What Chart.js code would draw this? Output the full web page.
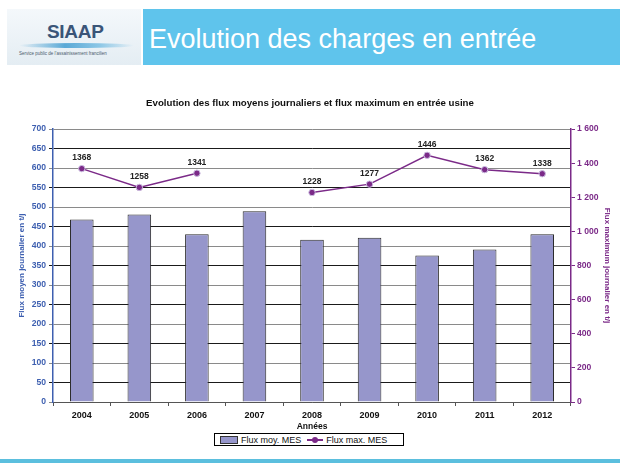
<!DOCTYPE html>
<html>
<head>
<meta charset="utf-8">
<script src="https://cdn.jsdelivr.net/npm/chart.js@4"></script>
<style>
  body { margin: 0; background: #fff; font-family: "Liberation Sans", Arial, sans-serif; }
  #page { position: relative; width: 620px; height: 464px; overflow: hidden; }
  .logo { position: absolute; left: 7px; top: 9px; width: 134px; height: 56px;
          background: linear-gradient(#f4f8fb, #e4edf3); }
  .logo .name { position: absolute; left: 40px; top: 12px; font-size: 19px; font-weight: bold;
                color: #3a5578; letter-spacing: -0.3px; }
  .logo .wave { position: absolute; left: 12px; top: 34px; width: 115px; height: 5px; border-radius: 50%;
                background: linear-gradient(90deg, rgba(120,190,225,0), #5aa9d6 40%, #8cc7e6 70%, rgba(120,190,225,0)); }
  .logo .sub { position: absolute; left: 12px; top: 42px; font-size: 4.5px; color: #4b5a6b; white-space: nowrap; }
  .band { position: absolute; left: 143px; top: 9px; width: 477px; height: 56px; background: #5fc4ec; }
  .band .title { position: absolute; left: 6px; top: 17px; font-size: 27px; line-height: 27px; color: #fff; white-space: nowrap; }
  .foot { position: absolute; left: 0; top: 459px; width: 620px; height: 4px; background: #5bbfde; }
  canvas { position: absolute; left: 0; top: 88px; }
  .legend { position: absolute; left: 214px; top: 433px; width: 190px; height: 13px; border: 1px solid #000;
            box-sizing: border-box; display: flex; align-items: center; font-size: 9px; color: #111; white-space: nowrap; }
  .legend .sw { display: inline-block; width: 16px; height: 6px; background: #9696cb; border: 1px solid #333; margin: 0 3px 0 5px; }
  .legend .ln { position: relative; display: inline-block; width: 16px; height: 7px; margin: 0 3px 0 6px; }
  .legend .ln::before { content: ""; position: absolute; left: 0; right: 0; top: 3px; height: 1.5px; background: #7b2a88; }
  .legend .ln::after { content: ""; position: absolute; left: 5px; top: 0.5px; width: 6px; height: 6px; border-radius: 50%; background: #7b2a88; }
</style>
</head>
<body>
<div id="page">
  <div class="logo">
    <div class="name">SIAAP</div>
    <div class="wave"></div>
    <div class="sub">Service public de l'assainissement francilien</div>
  </div>
  <div class="band"><div class="title">Evolution des charges en entrée</div></div>
  <canvas id="myChart" width="620" height="345"></canvas>
  <div class="legend"><span class="sw"></span>Flux moy. MES<span class="ln"></span>Flux max. MES</div>
  <div class="foot"></div>
</div>
<script>
// Données
var years = ['2004', '2005', '2006', '2007', '2008', '2009', '2010', '2011', '2012'];
var fluxMoyen = [468, 481, 430, 489, 416, 421, 376, 391, 430];
var fluxMax = [1368, 1258, 1341, null, 1228, 1277, 1446, 1362, 1338];

var blue = '#3d5fb0';
var purple = '#7b2a88';

// Etiquettes au-dessus des points de la courbe
var pointLabels = {
    id: 'pointLabels',
    afterDatasetsDraw: function (chart) {
        var ctx = chart.ctx;
        var meta = chart.getDatasetMeta(1);
        ctx.save();
        ctx.font = 'bold 8.5px "Liberation Sans", Arial, sans-serif';
        ctx.fillStyle = '#222';
        ctx.textAlign = 'center';
        ctx.textBaseline = 'middle';
        meta.data.forEach(function (pt, i) {
            if (fluxMax[i] === null) return;
            ctx.fillText(fluxMax[i], pt.x, pt.y - 10.5);
        });
        ctx.restore();
    }
};

var ctx = document.getElementById('myChart').getContext('2d');
var myChart = new Chart(ctx, {
    data: {
        labels: years,
        datasets: [{
            type: 'bar',
            label: 'Flux moy. MES',
            data: fluxMoyen,
            yAxisID: 'y',
            backgroundColor: '#9696cb',
            borderColor: '#2a2a2a',
            borderWidth: 1,
            barPercentage: 0.41,
            categoryPercentage: 1,
            order: 2
        }, {
            type: 'line',
            label: 'Flux max. MES',
            data: fluxMax,
            yAxisID: 'y1',
            borderColor: purple,
            borderWidth: 1.5,
            backgroundColor: purple,
            pointBackgroundColor: purple,
            pointBorderColor: '#cbbde0',
            pointBorderWidth: 1,
            pointRadius: 3.2,
            spanGaps: false,
            order: 1
        }]
    },
    options: {
        responsive: false,
        animation: false,
        layout: { padding: 0 },
        plugins: {
            legend: { display: false },
            tooltip: { enabled: false },
            title: {
                display: true,
                text: 'Evolution des flux moyens journaliers et flux maximum en entrée usine',
                color: '#111',
                font: { family: '"Liberation Sans", Arial', size: 9.7, weight: 'bold' },
                padding: { top: 9.2, bottom: 20.2 }
            }
        },
        scales: {
            x: {
                afterFit: function (s) { s.height = 31; },
                grid: { drawOnChartArea: false, tickLength: 4, color: '#555' },
                border: { color: '#555' },
                ticks: { color: '#111', padding: 4, font: { family: '"Liberation Sans", Arial', size: 9, weight: 'bold' } },
                title: { display: true, text: 'Années', color: '#111', padding: { top: 0, bottom: 1 },
                         font: { family: '"Liberation Sans", Arial', size: 8.5, weight: 'bold' } }
            },
            y: {
                position: 'left',
                min: 0,
                max: 700,
                afterFit: function (s) { s.width = 53; },
                grid: {
                    tickLength: 4,
                    color: function (c) { return c.index % 2 === 0 ? '#8a8a8a' : '#1a1a1a'; },
                    lineWidth: 1
                },
                border: { color: blue, width: 1.5 },
                ticks: { stepSize: 50, color: blue, padding: 3,
                         font: { family: '"Liberation Sans", Arial', size: 8.6, weight: 'bold' } },
                title: { display: true, text: 'Flux moyen journalier en t/j', color: blue, padding: { top: 17.2, bottom: 0 },
                         font: { family: '"Liberation Sans", Arial', size: 8, weight: 'bold' } }
            },
            y1: {
                position: 'right',
                min: 0,
                max: 1600,
                afterFit: function (s) { s.width = 49; },
                grid: { drawOnChartArea: false, tickLength: 4, color: purple },
                border: { color: purple, width: 1.5 },
                ticks: {
                    stepSize: 200, color: purple, padding: 2,
                    font: { family: '"Liberation Sans", Arial', size: 8.6, weight: 'bold' },
                    callback: function (v) { return String(v).replace(/\B(?=(\d{3})+(?!\d))/g, ' '); }
                },
                title: { display: true, text: 'Flux maximum journalier en t/j', color: purple, padding: { top: 8.2, bottom: 0 },
                         font: { family: '"Liberation Sans", Arial', size: 8, weight: 'bold' } }
            }
        }
    },
    plugins: [pointLabels]
});
</script>
</body>
</html>
